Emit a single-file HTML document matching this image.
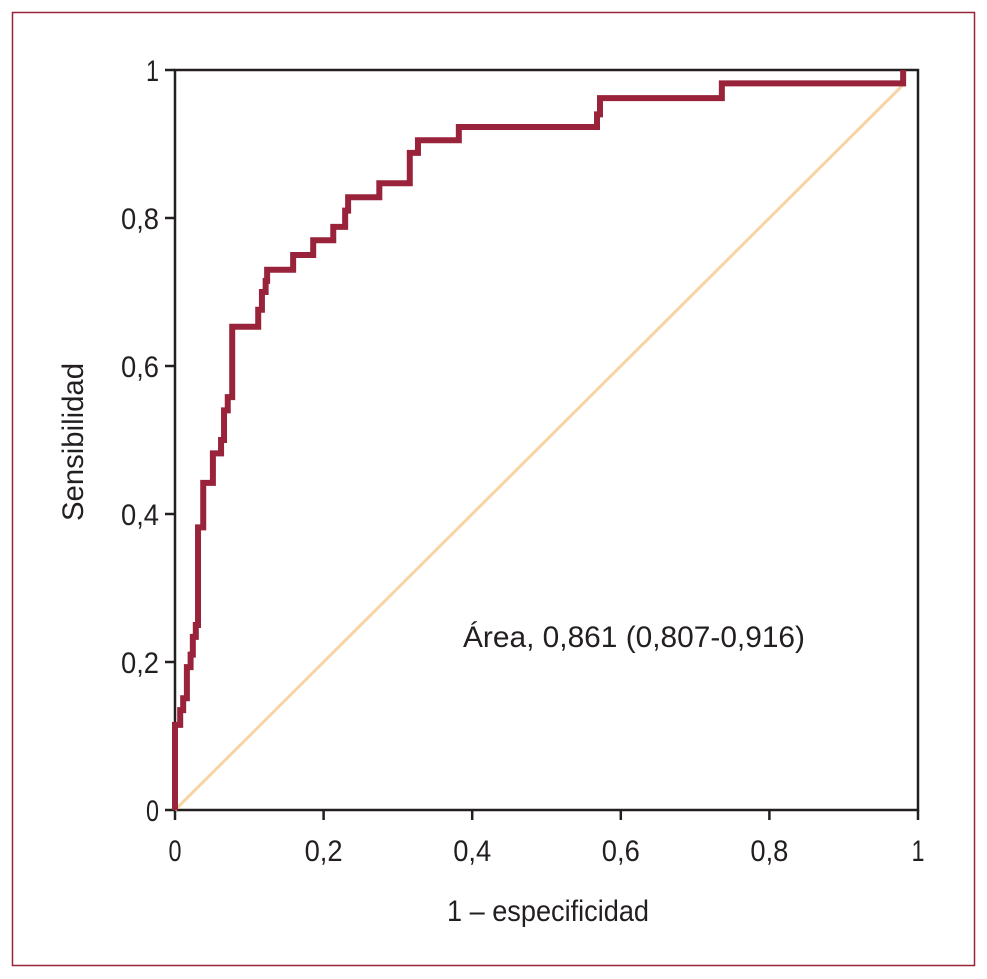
<!DOCTYPE html>
<html><head><meta charset="utf-8"><style>
html,body{margin:0;padding:0;background:#fff;}
svg{display:block;font-family:"Liberation Sans Narrow","Liberation Sans",sans-serif;}
</style></head><body>
<svg width="987" height="979" viewBox="0 0 987 979">
<rect x="12.5" y="12.5" width="962" height="953" fill="#fff" stroke="#98233a" stroke-width="1.5"/>
<g id="axes"></g>
<line id="diag" stroke="#f8d4a4" stroke-width="3"/>
<path id="roc" fill="none" stroke="#98233a" stroke-width="6" stroke-linejoin="miter"/>
<text x="463" y="647" font-size="30" fill="#231f20" textLength="342" lengthAdjust="spacingAndGlyphs">Área, 0,861 (0,807-0,916)</text>
<text x="447" y="921" font-size="30" fill="#231f20" textLength="202" lengthAdjust="spacingAndGlyphs">1 – especificidad</text>
<text transform="translate(83,521) rotate(-90)" font-size="30" fill="#231f20" textLength="158" lengthAdjust="spacingAndGlyphs">Sensibilidad</text>
</svg>
<script>
const fpr = [0,0.007,0.011,0.016,0.021,0.024,0.028,0.031,0.038,0.051,0.062,0.066,0.071,0.077,0.112,0.117,0.122,0.124,0.159,0.186,0.213,0.229,0.233,0.275,0.316,0.327,0.382,0.568,0.572,0.736,0.98];
const tpr = [0.115,0.135,0.151,0.193,0.21,0.234,0.25,0.382,0.442,0.482,0.50,0.54,0.558,0.653,0.676,0.70,0.715,0.73,0.75,0.77,0.788,0.81,0.828,0.847,0.888,0.905,0.923,0.94,0.962,0.982,1];
const xTicks = [0,0.2,0.4,0.6,0.8,1];
const xTickLabels = ["0","0,2","0,4","0,6","0,8","1"];
const yTicks = [0,0.2,0.4,0.6,0.8,1];
const yTickLabels = ["0","0,2","0,4","0,6","0,8","1"];
const diagEnd = 0.98;

const X0=175,X1=918,Y0=810,Y1=70;
const sx=v=>X0+v*(X1-X0);
const sy=v=>Y0-v*(Y0-Y1);
const NS="http://www.w3.org/2000/svg";
const axes=document.getElementById('axes');
function mk(tag,attrs,parent){const e=document.createElementNS(NS,tag);for(const k in attrs)e.setAttribute(k,attrs[k]);parent.appendChild(e);return e;}
function tlen(s){return s.length>1?38:13;}
const box=mk('rect',{x:X0,y:Y1,width:X1-X0,height:Y0-Y1,fill:'none',stroke:'#231f20','stroke-width':2.5},axes);


xTicks.forEach((t,i)=>{
  const l=mk('line',{x1:sx(t),x2:sx(t),y1:Y0,y2:Y0+10,stroke:'#231f20','stroke-width':2.5},axes);
  
  
  const tx=mk('text',{x:sx(t),y:Y0+51,'font-size':30,fill:'#231f20','text-anchor':'middle',textLength:tlen(xTickLabels[i]),lengthAdjust:'spacingAndGlyphs'},axes);
  tx.textContent=xTickLabels[i];
  
  
});
yTicks.forEach((t,i)=>{
  const l=mk('line',{x1:X0-10,x2:X0,y1:sy(t),y2:sy(t),stroke:'#231f20','stroke-width':2.5},axes);
  
  
  const tx=mk('text',{x:X0-16,y:sy(t)+11,'font-size':30,fill:'#231f20','text-anchor':'end',textLength:tlen(yTickLabels[i]),lengthAdjust:'spacingAndGlyphs'},axes);
  tx.textContent=yTickLabels[i];
  
  
});
const dg=document.getElementById('diag');
dg.setAttribute('x1',sx(0));dg.setAttribute('y1',sy(0));
dg.setAttribute('x2',sx(diagEnd));dg.setAttribute('y2',sy(diagEnd));
let d='M'+sx(0)+' '+sy(0);
for(let i=0;i<fpr.length;i++){d+=' H'+sx(fpr[i])+' V'+sy(tpr[i]);}
document.getElementById('roc').setAttribute('d',d);
</script>
</body></html>
